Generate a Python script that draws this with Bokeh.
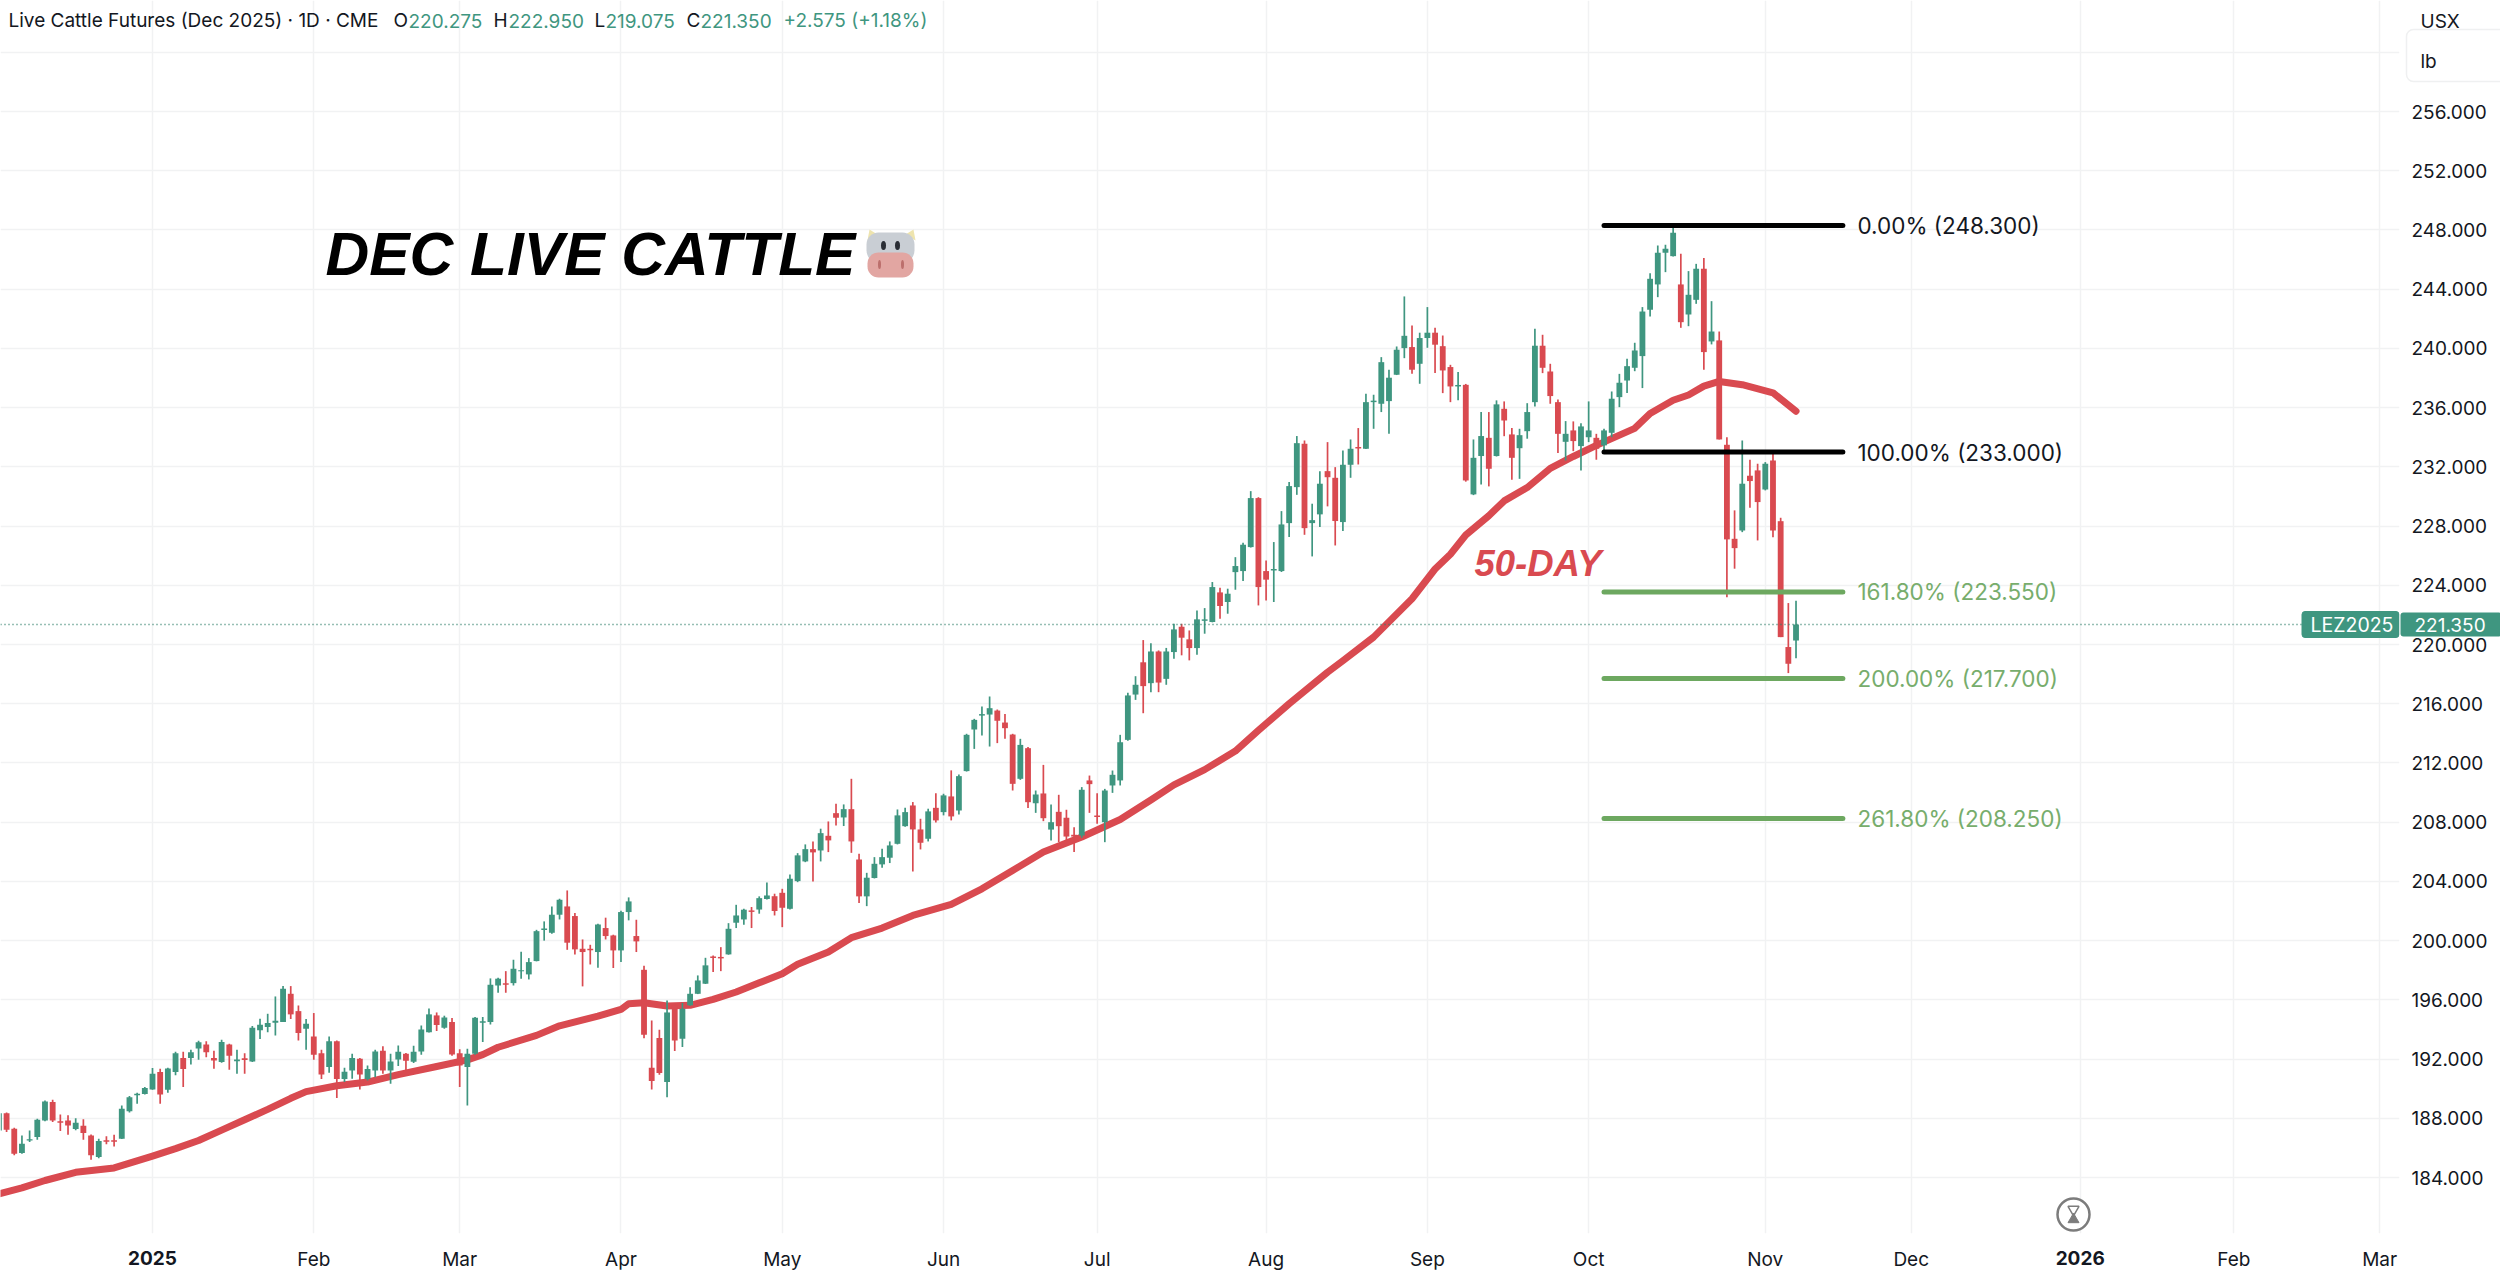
from bokeh.plotting import figure
from bokeh.models import (FixedTicker, NumeralTickFormatter, Label, BoxAnnotation, Span)
from bokeh.core.properties import value
from bokeh.embed import file_html
from bokeh.resources import INLINE

# ---------- data (bar number 0 = first session of 2025) ----------
first_bar = -20
opens = [187.18,188.35,187.3,185.65,186.5,186.73,187.86,189.1,187.8,187.86,
 187.27,187.5,186.84,185.38,186.52,186.52,186.62,188.47,189.55,189.64,
 189.95,191.12,189.93,191.12,192.07,192.07,192.72,192.99,192.07,191.8,
 192.99,191.85,192.05,191.84,193.94,194.16,194.45,194.5,196.41,195.24,
 194.05,193.53,192.4,191.46,193.21,190.65,191.23,192.02,190.65,191.23,
 192.56,191.23,191.98,192.36,191.82,192.52,193.82,194.95,194.12,194.5,
 192.4,191.46,192.36,194.45,194.5,196.97,197.12,197.13,197.93,197.72,
 198.62,200.72,200.53,201.75,202.31,201.66,199.45,199.45,199.23,200.85,
 200.35,199.34,201.93,200.31,198.03,191.42,193.42,190.45,195.63,193.37,
 195.63,196.41,197.09,198.93,198.9,199.07,201.21,201.43,202.04,202.1,
 202.81,203.0,203.23,202.15,204.02,205.35,206.18,206.09,207.08,208.61,
 208.32,208.88,205.48,202.99,204.23,205.15,205.6,206.54,207.73,209.13,
 207.51,206.88,208.97,208.68,209.74,208.79,211.45,214.26,215.2,215.27,
 215.54,214.73,213.92,210.93,213.0,209.28,209.94,207.5,208.7,208.3,
 207.15,207.1,210.82,208.45,208.0,210.48,210.82,213.56,216.62,218.8,
 217.39,219.53,217.68,219.49,221.2,220.35,219.76,221.6,221.52,223.52,
 222.87,224.89,224.96,226.58,229.89,224.96,225.0,224.96,228.2,230.63,
 233.56,228.2,228.79,231.71,231.26,228.27,232.14,233.34,233.22,236.37,
 236.26,236.44,238.22,240.02,240.09,238.96,240.7,241.06,240.15,238.74,
 237.43,237.54,230.14,232.73,233.96,232.73,235.92,234.19,233.26,234.41,
 236.37,240.18,238.44,236.37,233.69,234.46,233.4,234.0,233.96,233.45,
 234.3,236.71,237.83,238.69,239.48,242.61,244.32,246.46,246.23,244.32,
 242.29,243.28,245.38,240.47,240.54,233.49,227.14,227.7,231.4,231.76,
 230.47,232.43,228.33,219.83,220.27]
highs = [188.45,188.4,187.36,186.84,187.18,187.97,189.21,189.25,188.26,188.2,
 188.0,187.93,186.9,186.62,186.78,186.89,188.87,189.5,189.73,190.11,
 191.39,191.35,191.41,192.5,192.5,192.63,193.24,193.21,192.56,193.3,
 193.03,192.63,192.4,194.23,194.72,195.06,196.23,196.93,196.93,195.62,
 194.7,195.11,192.63,193.53,193.25,191.42,192.36,192.07,191.57,192.63,
 192.86,192.36,192.92,192.41,192.9,194.27,195.42,195.15,194.93,194.77,
 192.67,192.7,194.84,194.84,197.45,197.49,197.94,198.71,199.25,198.82,
 200.73,201.3,202.31,202.83,203.39,201.86,200.08,199.72,201.14,201.55,
 200.4,202.02,202.92,201.41,198.3,194.61,193.98,195.96,195.74,195.8,
 196.86,197.65,198.84,199.0,199.56,201.18,202.42,202.15,202.27,202.99,
 203.93,203.17,203.5,204.47,205.91,206.5,206.7,207.56,208.05,209.24,
 209.2,210.93,205.87,204.58,205.64,206.2,206.7,208.86,208.97,209.36,
 208.23,208.91,209.96,209.92,211.5,211.22,213.97,214.98,215.81,216.49,
 215.61,215.3,213.97,213.63,213.07,210.14,211.87,209.2,209.85,208.84,
 207.66,210.37,211.15,209.96,210.25,211.49,213.9,216.74,217.86,220.3,
 220.09,219.6,219.77,221.4,221.4,220.95,222.3,222.46,224.22,223.83,
 223.77,225.9,226.87,230.36,229.95,225.68,226.92,229.01,230.97,234.08,
 233.78,229.51,231.71,233.67,231.98,233.11,233.85,234.62,236.94,236.87,
 239.41,238.56,240.13,243.51,241.55,241.06,242.79,241.39,240.87,238.89,
 238.4,237.6,233.85,235.7,235.7,236.49,236.42,234.62,234.57,236.3,
 241.32,240.92,238.96,236.55,235.09,235.07,234.95,236.42,234.23,234.57,
 237.09,238.28,239.3,240.38,242.79,245.08,246.95,247.0,248.26,246.39,
 245.22,245.71,246.1,243.19,241.14,234.0,229.06,233.78,232.48,232.21,
 232.32,232.93,228.56,222.8,222.95]
lows = [187.1,187.07,185.5,185.6,186.4,186.55,187.8,187.75,187.14,186.89,
 187.2,186.55,185.2,185.3,186.24,186.1,186.6,188.4,188.98,189.6,
 189.93,188.98,189.73,190.9,190.11,191.64,191.95,192.13,191.35,191.75,
 191.28,191.01,191.01,191.8,193.35,193.82,193.6,194.5,194.7,193.26,
 192.63,191.95,190.65,191.08,189.37,190.45,190.67,189.95,190.56,190.78,
 191.01,190.33,191.53,191.19,191.73,192.29,193.8,193.89,194.05,192.23,
 190.11,188.87,192.3,193.15,194.34,196.48,196.48,196.97,197.43,197.38,
 198.6,200.0,200.47,201.43,199.38,199.07,196.91,198.39,198.17,200.08,
 198.15,198.55,201.37,199.23,193.4,189.95,190.95,189.43,192.54,192.81,
 195.6,196.39,197.07,197.88,197.94,199.05,200.85,201.07,200.85,201.82,
 202.78,201.7,200.91,202.1,203.95,205.3,204.0,205.35,205.98,207.78,
 207.74,205.93,202.54,202.33,204.2,204.92,205.24,206.5,207.7,204.67,
 206.16,206.7,207.98,208.46,208.12,208.52,211.42,212.95,213.85,213.11,
 213.34,213.63,210.14,210.86,208.95,208.63,208.07,206.76,206.65,206.76,
 205.98,206.95,208.63,207.9,206.65,209.98,210.48,213.5,216.26,215.36,
 216.78,216.78,217.28,219.04,219.27,218.93,219.31,220.73,221.5,221.74,
 222.08,223.7,224.29,226.55,222.64,222.98,222.87,224.9,227.26,230.11,
 227.41,225.95,227.93,229.33,226.69,227.66,231.26,232.16,233.2,234.57,
 235.7,234.23,238.2,239.34,238.29,237.61,240.04,238.33,236.98,236.37,
 236.49,231.0,230.09,230.81,230.68,232.7,234.07,231.13,231.19,233.9,
 236.08,238.33,236.26,232.93,232.43,233.06,231.76,233.67,232.48,233.06,
 234.0,236.03,236.98,238.46,237.32,242.16,243.46,245.15,246.2,241.39,
 241.5,243.01,238.56,240.27,233.85,223.2,225.12,227.59,229.24,227.03,
 230.41,227.25,220.5,218.07,219.08]
closes = [188.35,187.23,185.6,186.28,186.58,187.9,189.14,187.86,187.7,187.52,
 187.7,187.0,185.5,186.46,186.42,186.42,188.65,189.43,189.66,190.04,
 191.01,189.6,191.37,192.4,191.33,192.47,193.13,192.47,191.91,193.15,
 192.23,191.97,191.93,194.12,194.32,194.43,194.59,196.75,195.02,193.76,
 194.39,192.29,190.96,193.21,190.65,191.14,192.07,190.96,191.33,192.52,
 191.23,191.84,192.5,191.89,192.5,194.0,195.02,194.3,194.81,192.31,
 191.57,192.36,194.79,194.55,197.02,197.43,197.02,198.1,198.0,198.55,
 200.64,200.82,201.75,202.76,199.86,199.41,199.23,199.35,201.09,200.31,
 199.34,201.93,202.65,199.95,193.64,190.52,191.06,195.15,193.26,195.4,
 196.41,197.31,198.33,198.83,198.8,200.8,201.7,202.09,201.94,202.87,
 203.05,202.0,202.22,204.18,205.76,206.18,205.96,207.26,206.77,208.3,
 208.88,206.7,202.99,204.25,205.19,205.64,206.43,208.46,208.68,207.51,
 206.61,208.73,208.12,209.81,208.39,211.11,213.9,214.91,215.3,215.7,
 214.85,214.35,210.59,213.22,209.35,209.87,208.27,208.0,207.73,207.03,
 207.03,210.19,210.57,208.35,210.14,211.2,213.4,216.56,217.28,217.19,
 219.53,217.43,219.53,221.02,220.46,219.76,221.7,221.7,223.88,222.6,
 223.43,225.3,226.74,229.89,223.88,224.38,225.1,228.11,230.7,233.6,
 227.86,228.4,230.86,231.3,228.34,232.14,233.22,233.24,236.37,236.47,
 239.07,238.02,239.91,240.85,238.56,240.7,241.06,240.25,238.51,237.43,
 237.53,231.08,232.61,234.08,231.87,236.22,235.13,232.61,234.14,235.7,
 240.18,238.69,236.78,234.23,234.23,233.74,234.73,234.46,233.22,234.46,
 236.6,237.68,238.8,239.86,242.49,244.7,246.46,246.73,247.81,241.77,
 243.62,245.38,239.75,241.14,233.85,227.1,226.51,230.86,231.04,229.62,
 232.21,227.7,220.5,218.7,221.35]

ma_bars = [-20,-17,-14,-10,-5,0,3,6,9,12,15,18,20,24,28,32,37,41,43,45,50,53,58,61,62,64,67,70,73,76,79,82,84,88,91,95,99,
 104,108,112,116,121,126,130,133,137,141,144,148,153,155,159,164,167,169,171,174,176,179,182,185,188,193,195,198,200,
 202,204,207,211,214]
ma_values = [182.9,183.3,183.8,184.35,184.65,185.45,185.95,186.5,187.2,187.9,188.6,189.35,189.8,190.2,190.45,190.95,191.5,191.95,192.3,192.8,
 193.6,194.25,194.9,195.35,195.74,195.8,195.58,195.63,196.03,196.53,197.15,197.76,198.4,199.23,200.2,200.85,201.7,
 202.45,203.5,204.74,205.98,207.0,208.18,209.5,210.52,211.55,212.8,214.2,216.0,218.13,218.9,220.5,223.09,225.1,226.1,227.4,228.7,229.7,
 230.6,231.9,232.7,233.45,234.6,235.6,236.5,236.85,237.45,237.77,237.55,237.0,235.76]

fib_prices = [248.3, 233.0, 223.55, 217.7, 208.25]
fib_labels = ["0.00% (248.300)", "100.00% (233.000)", "161.80% (223.550)", "200.00% (217.700)", "261.80% (208.250)"]
fib_colors = ["#000000", "#000000", "#6DA860", "#6DA860", "#6DA860"]
fib_text_colors = ["#131722", "#131722", "#77AD6C", "#77AD6C", "#77AD6C"]
fib_start_bar, fib_end_bar, fib_label_bar = 189, 220.1, 222

month_bars = [0, 21, 40, 61, 82, 103, 123, 145, 166, 187, 210, 229, 251, 271, 290]
month_names = ["", "Feb", "Mar", "Apr", "May", "Jun", "Jul", "Aug", "Sep", "Oct", "Nov", "Dec", "", "Feb", "Mar"]
year_bars = [0, 251]
year_names = ["2025", "2026"]
price_ticks = list(range(184, 257, 4))
price_grid = list(range(184, 261, 4))
last_close = 221.35

GREEN, RED = "#3F9680", "#D94A50"
GRID = "#F1F2F3"

# ---------- layout: reference pixel <-> data ----------
PX_PER_BAR, PX_BAR0 = 7.68, 152.0
PX_PER_USD, PX_256 = 14.806, 111.0
def bar_at(px): return (px - PX_BAR0) / PX_PER_BAR
def price_at(py): return 256 - (py - PX_256) / PX_PER_USD

FRAME_R, FRAME_B = 2399, 1233
p = figure(frame_width=FRAME_R, frame_height=FRAME_B,
           x_range=(bar_at(0), bar_at(FRAME_R)), y_range=(price_at(FRAME_B), price_at(0)),
           y_axis_location="right", toolbar_location=None, output_backend="svg",
           min_border_left=0, min_border_top=0, min_border_right=2500 - FRAME_R, min_border_bottom=1271 - FRAME_B,
           background_fill_color="white", border_fill_color="white", outline_line_color=None)

p.xaxis.ticker = FixedTicker(ticks=month_bars)
p.xaxis.major_label_overrides = dict(zip(month_bars, month_names))
p.yaxis.ticker = FixedTicker(ticks=price_ticks)
p.yaxis.formatter = NumeralTickFormatter(format="0.000")
for ax in (p.xaxis[0], p.yaxis[0]):
    ax.axis_line_color = None
    ax.major_tick_line_color = None
    ax.minor_tick_line_color = None
    ax.major_label_text_font = "Inter"
    ax.major_label_text_font_size = "19px"
    ax.major_label_text_color = "#131722"
p.yaxis.major_label_standoff = 6
p.xaxis.major_label_standoff = 8
p.xgrid.ticker = FixedTicker(ticks=month_bars)
p.ygrid.ticker = FixedTicker(ticks=price_grid)
for g in (p.xgrid[0], p.ygrid[0]):
    g.grid_line_color = GRID
    g.grid_line_width = 1.5

# ---------- price marks ----------
bars = [first_bar + i for i in range(len(opens))]
colors = [GREEN if c >= o else RED for o, c in zip(opens, closes)]
p.add_layout(Span(location=last_close, dimension="width", line_color="#2F7F6B", line_width=1.5, line_dash="1 3"))
p.line(ma_bars, ma_values, line_color=RED, line_width=7, line_join="round", line_cap="round")
p.segment(bars, lows, bars, highs, line_color=colors, line_width=1.7)
p.vbar(x=bars, top=[max(o, c) for o, c in zip(opens, closes)], bottom=[min(o, c) for o, c in zip(opens, closes)],
       width=0.76, fill_color=colors, line_color=None)

# ---------- fibonacci levels ----------
p.segment([fib_start_bar] * 5, fib_prices, [fib_end_bar] * 5, fib_prices, line_color=fib_colors, line_width=5, line_cap="round")
p.text([fib_label_bar] * 5, fib_prices, text=fib_labels, text_color=fib_text_colors, text_font=value("Inter"),
       text_font_size="22.5px", text_baseline="middle", text_align="left")

# ---------- texts positioned in reference pixels ----------
def lab(text, px, py, size, color, style="normal", font="Inter", align="left", side=None, **extra):
    label = Label(x=px, y=py, x_units="canvas", y_units="canvas", text=text,
                  text_color=color, text_font=font, text_font_size=f"{size}px", text_font_style=style,
                  text_align=align, text_baseline="middle", **extra)
    if side:
        p.add_layout(label, side)
    else:
        p.add_layout(label)

lab("Live Cattle Futures (Dec 2025) · 1D · CME", 8, 20, 19, "#131722")
header_letters = ["O", "H", "L", "C"]
header_numbers = ["220.275", "222.950", "219.075", "221.350"]
header_letter_px = [393, 493, 594, 686]
header_number_px = [408, 508, 605, 700]
for t, x in zip(header_letters, header_letter_px):
    lab(t, x, 20, 19, "#131722")
for t, x in zip(header_numbers, header_number_px):
    lab(t, x, 20, 19, GREEN)
lab("+2.575 (+1.18%)", 783, 20, 19, GREEN)

lab("DEC LIVE CATTLE", 325, 253, 60.5, "#000000", "bold italic", "Liberation Sans")
lab("50-DAY", 1474, 563, 36.5, RED, "bold italic", "Liberation Sans")

# years sit under the frame, on the time axis row
year_px = [PX_BAR0 + PX_PER_BAR * b for b in year_bars]
for t, x in zip(year_names, year_px):
    lab(t, x, 1257, 19, "#131722", "bold", "Inter", "center", side="below")

# ---------- last price tags and unit box ----------
p.add_layout(BoxAnnotation(left=2301.5, right=2398.5, top=611, bottom=637,
                           left_units="canvas", right_units="canvas", top_units="canvas", bottom_units="canvas",
                           fill_color=GREEN, fill_alpha=1, line_color=GREEN, line_alpha=1, border_radius=3))
lab("LEZ2025", 2310, 624, 19.5, "#FFFFFF")
lab(" ", 2400, 624, 19, GREEN, side="right",
    background_fill_color=GREEN, background_fill_alpha=1, padding=(2, 94, 1, 0), border_radius=3)
lab("221.350", 2414, 624, 19, "#FFFFFF", side="right")
lab(" ", 2406, 55, 19, "#131722", side="right",
    border_line_color="#EFF0F1", border_line_width=1.5, padding=(29, 94, 29, 0), border_radius=7)
lab("USX", 2420, 21, 19, "#131722", side="right")
lab("lb", 2420, 61, 19, "#131722", side="right")

# ---------- cow emoji and hourglass icon ----------
def quad(l, r, t, b, color, radius):
    p.quad(left=bar_at(l), right=bar_at(r), top=price_at(t), bottom=price_at(b),
           fill_color=color, line_color=None, border_radius=radius)
horns = [((867, 877, 869), (240, 234, 229)), ((905, 915, 913), (234, 240, 229))]
for xs, ys in horns:
    p.patch([bar_at(v) for v in xs], [price_at(v) for v in ys], fill_color="#EEE4AE", line_color=None)
quad(866, 914, 232, 262, "#C9CED4", 12)
quad(867, 913, 252, 277, "#E2A6A2", 11)
eye_px, nostril_px = [883, 897], [879, 902]
p.ellipse([bar_at(v) for v in eye_px], price_at(245), width=5 / PX_PER_BAR, height=9 / PX_PER_USD,
          fill_color="#2A2E35", line_color=None)
p.ellipse([bar_at(v) for v in nostril_px], price_at(264), width=3 / PX_PER_BAR, height=9 / PX_PER_USD,
          fill_color="#BC6F6C", line_color=None)

ix, iy = bar_at(2073), price_at(1214)
p.scatter([ix], [iy], marker="circle", size=32, fill_color="#FFFFFF", line_color="#7C7C7C", line_width=2.5)
p.scatter([ix], [price_at(1209)], marker="inverted_triangle", size=11, fill_color="#FFFFFF", line_color="#7C7C7C", line_width=1.5)
p.scatter([ix], [price_at(1219)], marker="triangle", size=11, fill_color="#7C7C7C", line_color="#7C7C7C", line_width=1)

open("out.html", "w").write(file_html(p, INLINE))
